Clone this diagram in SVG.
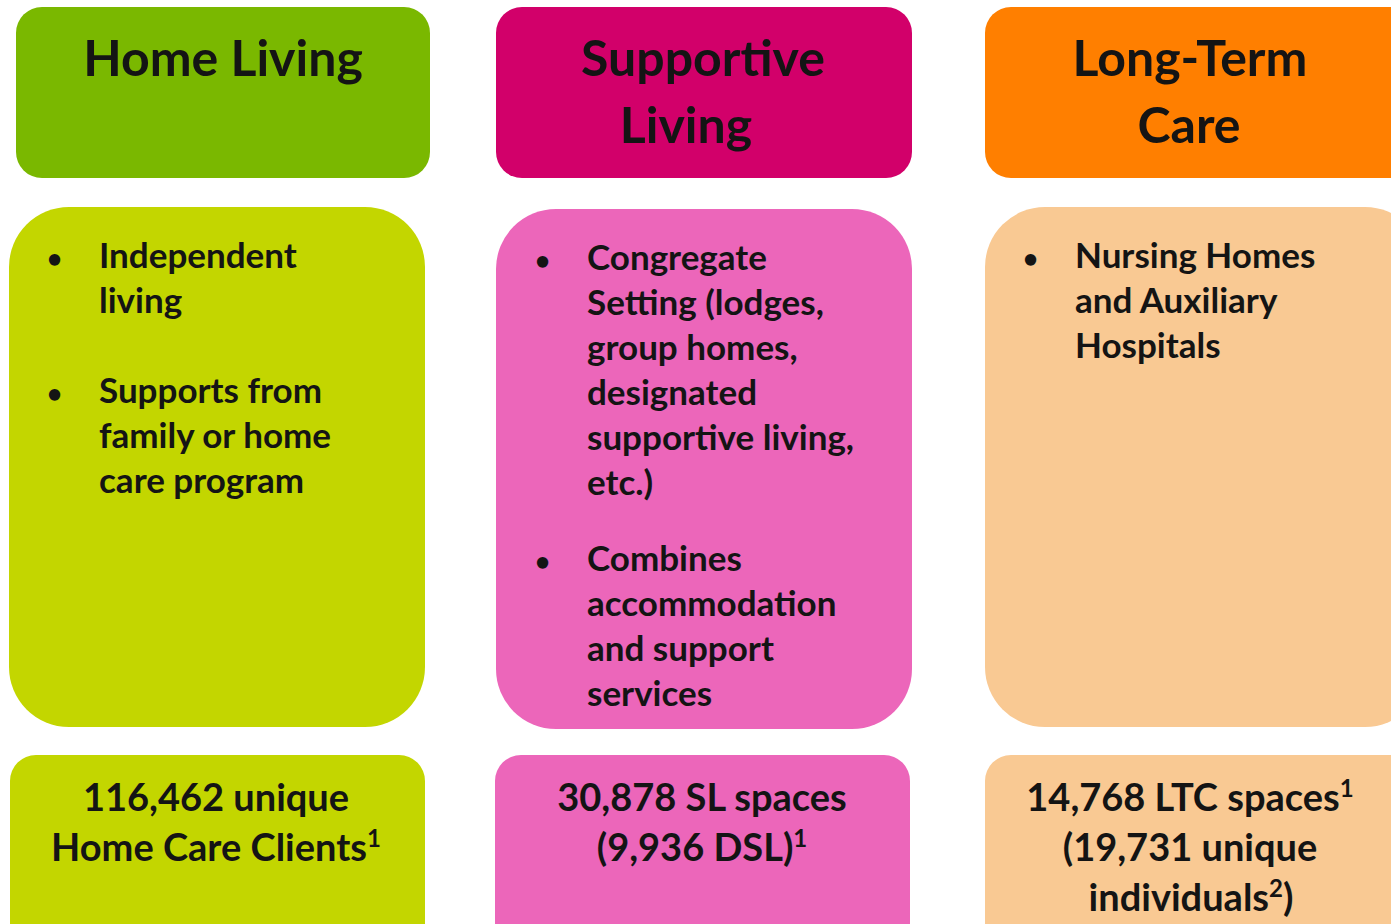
<svg xmlns="http://www.w3.org/2000/svg" width="1391" height="924" viewBox="0 0 1391 924">
<style>
text{font-family:Lato,"Open Sans","Liberation Sans",sans-serif;font-weight:bold;fill:#141414}
.h{font-size:50px;text-anchor:middle}
.b{font-size:35px}
.f{font-size:38px;text-anchor:middle}
.bul{font-size:26px}
.sup{font-size:24px}
.g1{fill:#7ab800}.g2{fill:#c3d600}
.p1{fill:#d2006a}.p2{fill:#ec66ba}
.o1{fill:#ff7f00}.o2{fill:#f9c993}
</style>
<rect width="1391" height="924" fill="#ffffff"/>
<g id="home-living">
<rect class="g1" x="16" y="7" width="414" height="171" rx="26"/>
<text class="h" x="223" y="76">Home Living</text>
</g>
<g id="supportive-living">
<rect class="p1" x="496" y="7" width="416" height="171" rx="26"/>
<text class="h" x="703" y="76">Supportive</text>
<text class="h" x="686" y="143">Living</text>
</g>
<g id="long-term-care">
<rect class="o1" x="985" y="7" width="430" height="171" rx="26"/>
<text class="h" x="1190" y="76">Long-Term</text>
<text class="h" x="1189" y="143">Care</text>
</g>
<g id="home-living-details">
<rect class="g2" x="9" y="207" width="416" height="520" rx="60"/>
<text class="bul" x="47" y="268">•</text>
<text class="b" x="99" y="268">Independent</text>
<text class="b" x="99" y="313">living</text>
<text class="bul" x="47" y="403">•</text>
<text class="b" x="99" y="403">Supports from</text>
<text class="b" x="99" y="448">family or home</text>
<text class="b" x="99" y="493">care program</text>
</g>
<g id="supportive-living-details">
<rect class="p2" x="496" y="209" width="416" height="520" rx="60"/>
<text class="bul" x="535" y="270">•</text>
<text class="b" x="587" y="270">Congregate</text>
<text class="b" x="587" y="315">Setting (lodges,</text>
<text class="b" x="587" y="360">group homes,</text>
<text class="b" x="587" y="405">designated</text>
<text class="b" x="587" y="450">supportive living,</text>
<text class="b" x="587" y="495">etc.)</text>
<text class="bul" x="535" y="571">•</text>
<text class="b" x="587" y="571">Combines</text>
<text class="b" x="587" y="616">accommodation</text>
<text class="b" x="587" y="661">and support</text>
<text class="b" x="587" y="706">services</text>
</g>
<g id="long-term-care-details">
<rect class="o2" x="985" y="207" width="440" height="520" rx="60"/>
<text class="bul" x="1023" y="268">•</text>
<text class="b" x="1075" y="268">Nursing Homes</text>
<text class="b" x="1075" y="313">and Auxiliary</text>
<text class="b" x="1075" y="358">Hospitals</text>
</g>
<g id="home-living-count">
<rect class="g2" x="10" y="755" width="415" height="200" rx="26"/>
<text class="f" x="216" y="811">116,462 unique</text>
<text class="f" x="216" y="861">Home Care Clients<tspan class="sup" dy="-14">1</tspan></text>
</g>
<g id="supportive-living-count">
<rect class="p2" x="495" y="755" width="415" height="200" rx="26"/>
<text class="f" x="702" y="811">30,878 SL spaces</text>
<text class="f" x="702" y="861">(9,936 DSL)<tspan class="sup" dy="-14">1</tspan></text>
</g>
<g id="long-term-care-count">
<rect class="o2" x="985" y="755" width="440" height="200" rx="26"/>
<text class="f" x="1190" y="811">14,768 LTC spaces<tspan class="sup" dy="-14">1</tspan></text>
<text class="f" x="1190" y="861">(19,731 unique</text>
<text class="f" x="1191" y="911">individuals<tspan class="sup" dy="-14">2</tspan><tspan dy="14">)</tspan></text>
</g>
<g id="connectors"></g>
</svg>
